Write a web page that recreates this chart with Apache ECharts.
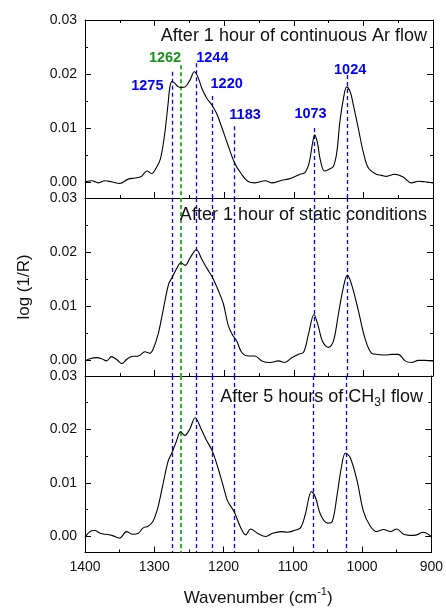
<!DOCTYPE html>
<html>
<head>
<meta charset="utf-8">
<script src="https://cdn.jsdelivr.net/npm/echarts@6/dist/echarts.min.js"></script>
<style>
  html, body { margin: 0; background: #fff; }
  #chart { width: 446px; height: 608px; }
</style>
</head>
<body>
<div id="chart"></div>
<script>
// spectra: [wavenumber, log(1/R)]
const arFlow = [
  [1400,0.0000],[1390,0.0002],[1381,-0.0002],[1371,0.0002],[1362,0.0000],[1350,-0.0003],[1338,0.0005],[1328,0.0007],
  [1319,0.0010],[1311,0.0020],[1304,0.0015],[1299,0.0023],[1292,0.0041],[1286,0.0084],[1281,0.0140],[1278,0.0176],
  [1275,0.0186],[1271,0.0183],[1266,0.0176],[1261,0.0175],[1256,0.0176],[1249,0.0189],[1243,0.0204],[1238,0.0195],
  [1232,0.0173],[1225,0.0155],[1218,0.0143],[1211,0.0127],[1204,0.0103],[1194,0.0066],[1185,0.0035],[1175,0.0014],
  [1165,0.0000],[1156,-0.0002],[1141,0.0002],[1132,-0.0002],[1117,0.0003],[1108,0.0005],[1098,0.0010],[1091,0.0014],
  [1084,0.0017],[1078,0.0035],[1073,0.0072],[1070,0.0087],[1066,0.0072],[1062,0.0041],[1056,0.0020],[1050,0.0023],
  [1043,0.0029],[1038,0.0057],[1034,0.0109],[1029,0.0152],[1024,0.0176],[1019,0.0167],[1015,0.0146],[1007,0.0097],
  [1000,0.0054],[993,0.0026],[983,0.0015],[974,0.0012],[967,0.0010],[955,0.0014],[943,0.0009],[931,-0.0002],
  [921,0.0001],[912,0.0000],[900,-0.0002]
];
const staticCond = [
  [1400,-0.0002],[1393,0.0002],[1383,0.0004],[1376,0.0002],[1369,-0.0002],[1362,0.0006],[1355,0.0001],[1347,-0.0007],
  [1340,0.0001],[1333,0.0006],[1323,0.0007],[1314,0.0015],[1307,0.0012],[1302,0.0020],[1295,0.0047],[1288,0.0090],
  [1280,0.0140],[1275,0.0152],[1268,0.0170],[1262,0.0180],[1256,0.0175],[1249,0.0189],[1240,0.0204],[1232,0.0186],
  [1225,0.0170],[1217,0.0153],[1208,0.0127],[1201,0.0103],[1194,0.0063],[1187,0.0044],[1182,0.0035],[1175,0.0014],
  [1165,0.0007],[1156,0.0007],[1146,-0.0002],[1134,-0.0005],[1122,-0.0002],[1113,-0.0005],[1103,0.0004],[1094,0.0010],
  [1086,0.0014],[1079,0.0047],[1071,0.0084],[1065,0.0063],[1059,0.0035],[1050,0.0023],[1043,0.0035],[1036,0.0084],
  [1029,0.0133],[1023,0.0157],[1017,0.0140],[1007,0.0090],[998,0.0041],[988,0.0012],[979,0.0010],[969,0.0009],
  [959,0.0010],[950,0.0010],[940,-0.0002],[931,-0.0005],[921,-0.0001],[912,-0.0001],[900,-0.0002]
];
const ch3iFlow = [
  [1400,-0.0002],[1393,0.0009],[1386,0.0011],[1378,0.0006],[1371,0.0004],[1364,0.0003],[1357,0.0000],[1350,-0.0003],
  [1340,0.0009],[1331,0.0004],[1323,0.0006],[1316,0.0016],[1309,0.0019],[1302,0.0028],[1295,0.0053],[1288,0.0094],
  [1280,0.0141],[1275,0.0155],[1268,0.0178],[1262,0.0196],[1256,0.0189],[1249,0.0200],[1241,0.0222],[1233,0.0203],
  [1225,0.0181],[1216,0.0159],[1208,0.0128],[1201,0.0097],[1194,0.0066],[1185,0.0047],[1175,0.0016],[1168,0.0003],
  [1161,0.0014],[1151,0.0006],[1139,0.0000],[1129,0.0006],[1117,0.0009],[1108,0.0008],[1098,0.0011],[1089,0.0016],
  [1082,0.0041],[1073,0.0084],[1067,0.0072],[1060,0.0041],[1050,0.0025],[1043,0.0028],[1036,0.0078],[1030,0.0128],
  [1024,0.0156],[1017,0.0147],[1007,0.0103],[998,0.0047],[988,0.0019],[979,0.0009],[969,0.0013],[959,0.0009],
  [950,0.0014],[940,0.0004],[931,0.0002],[921,0.0003],[912,0.0008],[900,0.0000]
];

const panelTitles = [
  'After 1 hour of continuous Ar flow',
  'After 1 hour of static conditions',
  '{a|After 5 hours of CH}{b|3}{a|I flow}'
];

// peak markers
const peakLabels = ['1275', '1262', '1244', '1220', '1183', '1073', '1024'];
const peakLineWn = [1274.5, 1262, 1240, 1216.6, 1185, 1070.5, 1023.5];
const peakLineTop = [0.0204, 0.0216, 0.0220, 0.0159, 0.0103, 0.0100, 0.0198];
const peakLabelWn = [1310.4, 1285, 1217, 1196.5, 1170, 1076, 1019];
const peakLabelVal = [0.0178, 0.0229, 0.0229, 0.0181, 0.0124, 0.0125, 0.0208];
const greenPeak = '1262';

const yMajor = [0, 0.01, 0.02, 0.03];
const yMinor = [0.005, 0.015, 0.025];
const yMin = -0.003, yMax = 0.03;

const FONT = 'Liberation Sans, Arial, sans-serif';
const BLUE = '#0000ff', GREEN = '#35b035';

const chart = echarts.init(document.getElementById('chart'));

const gridTops = [20, 198, 376];
const grids = gridTops.map(t => ({ left: 85, right: 13, top: t, height: 178 }));

const xAxes = [];
gridTops.forEach((t, g) => {
  xAxes.push({
    gridIndex: g, type: 'value', min: 900, max: 1400, interval: 100, inverse: true,
    position: 'bottom',
    axisLine: { show: true, onZero: false, lineStyle: { color: '#000', width: 1 } },
    axisTick: { inside: true, length: 6, lineStyle: { color: '#000' } },
    minorTick: { show: true, splitNumber: 2, length: 3, lineStyle: { color: '#000' } },
    axisLabel: { show: g === 2, fontSize: 14, color: '#111', fontFamily: FONT, margin: 8, formatter: v => String(v) },
    splitLine: { show: false },
    name: g === 2 ? '{a|Wavenumber (cm}{s|-1}{a|)}' : '',
    nameLocation: 'middle',
    nameGap: 34,
    nameTextStyle: {
      fontFamily: FONT, color: '#111',
      rich: {
        a: { fontSize: 17, lineHeight: 24, fontFamily: FONT, color: '#111' },
        s: { fontSize: 11, lineHeight: 11, verticalAlign: 'top', fontFamily: FONT, color: '#111' }
      }
    }
  });
});
// top frame of first panel with ticks
xAxes.push({
  gridIndex: 0, type: 'value', min: 900, max: 1400, interval: 100, inverse: true,
  position: 'top',
  axisLine: { show: true, onZero: false, lineStyle: { color: '#000' } },
  axisTick: { inside: true, length: 6, lineStyle: { color: '#000' } },
  minorTick: { show: true, splitNumber: 2, length: 3, lineStyle: { color: '#000' } },
  axisLabel: { show: false },
  splitLine: { show: false }
});

const yAxes = [];
gridTops.forEach((t, g) => {
  ['left', 'right'].forEach(side => {
    yAxes.push({
      gridIndex: g, type: 'value', min: yMin, max: yMax, position: side,
      axisLine: { show: true, onZero: false, lineStyle: { color: '#000' } },
      axisTick: { inside: true, length: 6, customValues: yMajor, lineStyle: { color: '#000' } },
      axisLabel: {
        show: side === 'left', customValues: yMajor, formatter: v => v.toFixed(2),
        fontSize: 14, color: '#111', fontFamily: FONT, margin: 8
      },
      splitLine: { show: false },
      name: (g === 1 && side === 'left') ? 'log (1/R)' : '',
      nameLocation: 'middle',
      nameGap: 52,
      nameTextStyle: { fontSize: 17, color: '#111', fontFamily: FONT }
    });
    yAxes.push({
      gridIndex: g, type: 'value', min: yMin, max: yMax, position: side,
      axisLine: { show: false },
      axisTick: { inside: true, length: 3, customValues: yMinor, lineStyle: { color: '#000' } },
      axisLabel: { show: false },
      splitLine: { show: false }
    });
  });
});

function peakLines(g) {
  return peakLabels.map((lab, i) => {
    const col = lab === greenPeak ? GREEN : BLUE;
    return [
      { coord: [peakLineWn[i], g === 0 ? peakLineTop[i] : yMax],
        lineStyle: { color: col, width: lab === greenPeak ? 2 : 1.3, type: [4, 3] } },
      { coord: [peakLineWn[i], yMin] }
    ];
  });
}

const spectra = [arFlow, staticCond, ch3iFlow];
const series = spectra.map((d, g) => ({
  type: 'line',
  xAxisIndex: g,
  yAxisIndex: g * 4,
  data: d,
  smooth: 0.35,
  showSymbol: false,
  lineStyle: { color: '#000', width: 1.1 },
  itemStyle: { color: '#000' },
  z: 3,
  markLine: {
    silent: true, symbol: 'none', label: { show: false },
    data: peakLines(g), z: 2
  },
  markPoint: g === 0 ? {
    silent: true,
    symbol: 'circle', symbolSize: 0,
    label: {
      show: true, position: 'inside', fontSize: 14.5, fontWeight: 'bold', fontFamily: FONT,
      formatter: p => p.name
    },
    data: peakLabels.map((lab, i) => ({
      name: lab,
      coord: [peakLabelWn[i], peakLabelVal[i]],
      label: { color: lab === greenPeak ? '#179417' : BLUE }
    }))
  } : undefined
}));

const titleTops = [27, 206, 385];
const titleRights = [19, 19, 23];
const title = panelTitles.map((txt, g) => ({
  text: txt,
  right: titleRights[g],
  top: titleTops[g],
  padding: 0,
  textStyle: {
    fontSize: 18, fontWeight: 'normal', color: '#111', fontFamily: FONT,
    rich: {
      a: { fontSize: 18, lineHeight: 24, fontFamily: FONT, color: '#111' },
      b: { fontSize: 12, lineHeight: 12, verticalAlign: 'bottom', fontFamily: FONT, color: '#111' }
    }
  }
}));

chart.setOption({
  animation: false,
  backgroundColor: '#fff',
  title: title,
  grid: grids,
  xAxis: xAxes,
  yAxis: yAxes,
  series: series
});
</script>
</body>
</html>
